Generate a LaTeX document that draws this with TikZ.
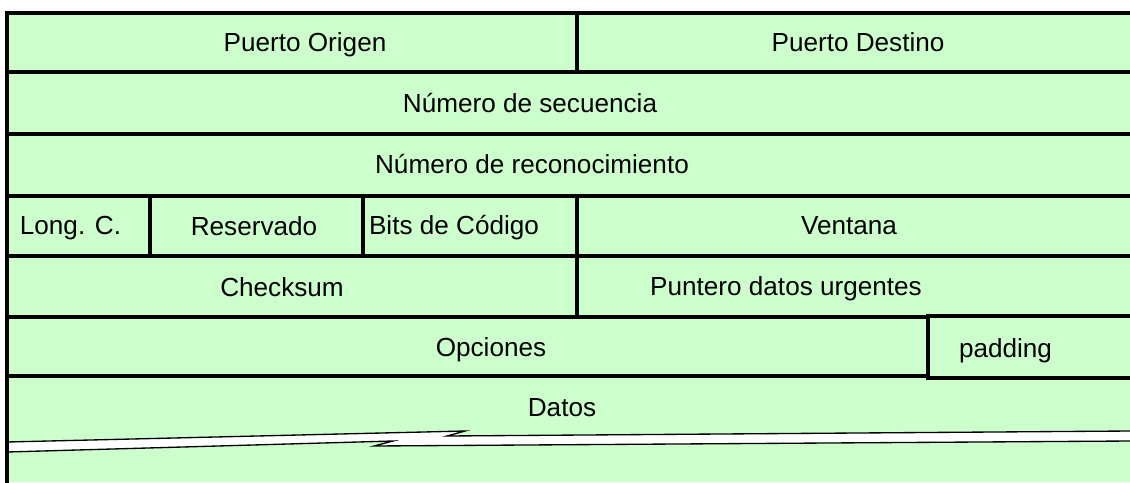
\documentclass[tikz,border=0pt]{standalone}
\usepackage{fontspec}
\setmainfont{Liberation Sans}
\definecolor{cellgreen}{HTML}{CCFFCC}
\begin{document}
\begin{tikzpicture}[x=0.75pt,y=-0.75pt,
  gridline/.style={line width=2.6pt, line cap=rect, draw=black},
  breakline/.style={line width=1pt, draw=black},
  lbl/.style={anchor=base, inner sep=0pt, font=\fontsize{19.6}{23}\selectfont}]
\useasboundingbox (0,0) rectangle (1130,482);
% background
\fill[cellgreen] (7,13) rectangle (1130,482);
% break strip
\fill[white] (7,442) -- (465,431) -- (447,436) -- (1130,431) -- (1130,441) -- (374,446) -- (393,441) -- (7,452) -- cycle;
\draw[breakline] (7,442) -- (465,431) -- (447,436) -- (1130,431);
\draw[breakline] (7,452) -- (393,441) -- (374,446) -- (1130,441);
% outer border (left and top)
\draw[gridline, line join=miter] (7,482) -- (7,13) -- (1130,13);
% horizontal row lines
\draw[gridline] (7,72) -- (1130,72);
\draw[gridline] (7,134) -- (1130,134);
\draw[gridline] (7,196) -- (1130,196);
\draw[gridline] (7,256) -- (1130,256);
\draw[gridline] (7,317) -- (928,317);
\draw[gridline] (928,316) -- (1130,316);
\draw[gridline] (7,376) -- (928,376);
\draw[gridline] (928,378) -- (1130,378);
% vertical dividers
\draw[gridline] (577,13) -- (577,72);
\draw[gridline] (150,196) -- (150,256);
\draw[gridline] (363,196) -- (363,256);
\draw[gridline] (577,196) -- (577,317);
\draw[gridline] (928,316) -- (928,378);
% labels
\node[lbl] (porig) at (305,51) {Puerto Origen};
\node[lbl] (pdest) at (858,51) {Puerto Destino};
\node[lbl] (nseq) at (530,112) {Número de secuencia};
\node[lbl] (nack) at (532,173) {Número de reconocimiento};
\node[lbl] (longc) at (70.5,234) {Long. C.};
\node[lbl] (resv) at (254,235) {Reservado};
\node[lbl] (bits) at (454,234) {Bits de Código};
\node[lbl] (vent) at (849,234) {Ventana};
\node[lbl] (chk) at (282,296) {Checksum};
\node[lbl] (purg) at (786,295) {Puntero datos urgentes};
\node[lbl] (opc) at (491,356) {Opciones};
\node[lbl] (pad) at (1005.5,357) {padding};
\node[lbl] (datos) at (562,416) {Datos};
\end{tikzpicture}
\end{document}
